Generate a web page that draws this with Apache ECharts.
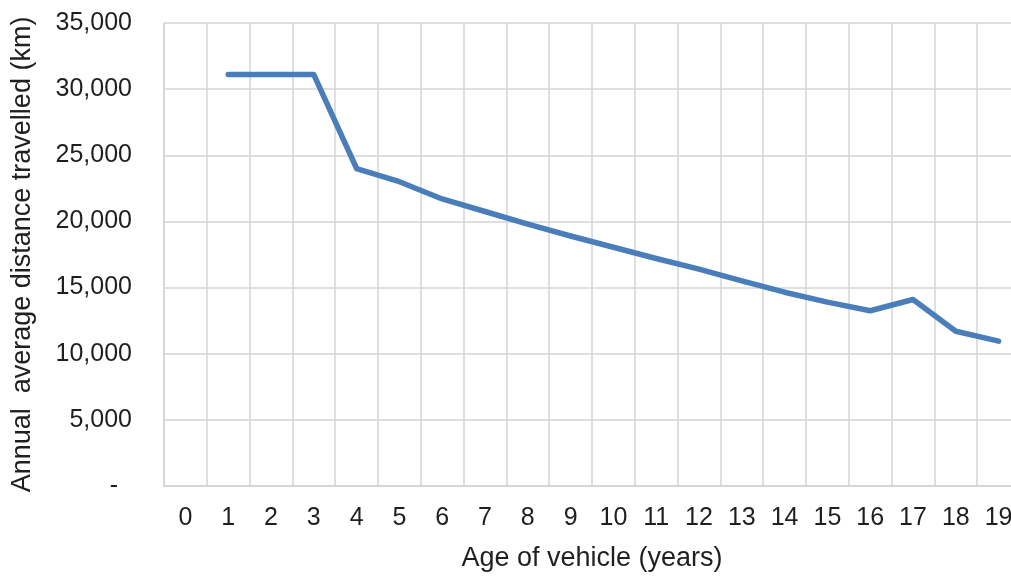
<!DOCTYPE html>
<html>
<head>
<meta charset="utf-8">
<script src="https://cdn.jsdelivr.net/npm/echarts@6/dist/echarts.min.js"></script>
<style>
html,body{margin:0;padding:0;background:#fff;}
#wrap{width:1011px;height:577px;overflow:hidden;position:relative;}
#chart{position:absolute;left:0;top:0;width:1030px;height:577px;}
</style>
</head>
<body>
<div id="wrap"><div id="chart"></div></div>
<script>
const categories = ['0','1','2','3','4','5','6','7','8','9','10','11','12','13','14','15','16','17','18','19'];
const distanceKm = [null,31100,31100,31100,24000,23000,21700,20750,19800,18900,18050,17200,16400,15500,14650,13900,13250,14100,11700,10950];
const yTicks = [0,5000,10000,15000,20000,25000,30000,35000];
const xTitle = 'Age of vehicle (years)';
const yTitle = 'Annual  average distance travelled (km)';

const FONT = '"Liberation Sans", Arial, sans-serif';
const TXT = '#1f1f1f';
const GRID = '#d4d4d4';

const chart = echarts.init(document.getElementById('chart'), null, {renderer:'canvas'});
chart.setOption({
  animation:false,
  backgroundColor:'#fff',
  grid:{left:164, top:23, width:856, height:468, containLabel:false},
  xAxis:{
    type:'category',
    data:categories,
    boundaryGap:true,
    name:xTitle,
    nameLocation:'middle',
    nameGap:59,
    nameTextStyle:{fontFamily:FONT,fontSize:27,color:TXT},
    axisLine:{show:true,lineStyle:{color:GRID,width:1.5}},
    axisTick:{show:false},
    axisLabel:{fontFamily:FONT,fontSize:25,color:TXT,margin:20,interval:0},
    splitLine:{show:true,interval:0,lineStyle:{color:GRID,width:1.5}}
  },
  yAxis:{
    type:'value',
    min:yTicks[0],
    max:yTicks[yTicks.length-1],
    interval:yTicks[1]-yTicks[0],
    name:yTitle,
    nameLocation:'middle',
    nameGap:128,
    nameTextStyle:{fontFamily:FONT,fontSize:27,color:TXT},
    axisLine:{show:true,lineStyle:{color:GRID,width:1.5}},
    axisTick:{show:false},
    axisLabel:{fontFamily:FONT,fontSize:25,color:TXT,margin:32,
      formatter:function(v){return v===0?'-  ':v.toLocaleString('en-US');}},
    splitLine:{show:true,lineStyle:{color:GRID,width:1.5}}
  },
  series:[{
    type:'line',
    data:distanceKm,
    showSymbol:false,
    symbol:'none',
    connectNulls:false,
    lineStyle:{color:'#4a7ebb',width:5.5,join:'round',cap:'round'},
    itemStyle:{color:'#4a7ebb'}
  }]
});
</script>
</body>
</html>
